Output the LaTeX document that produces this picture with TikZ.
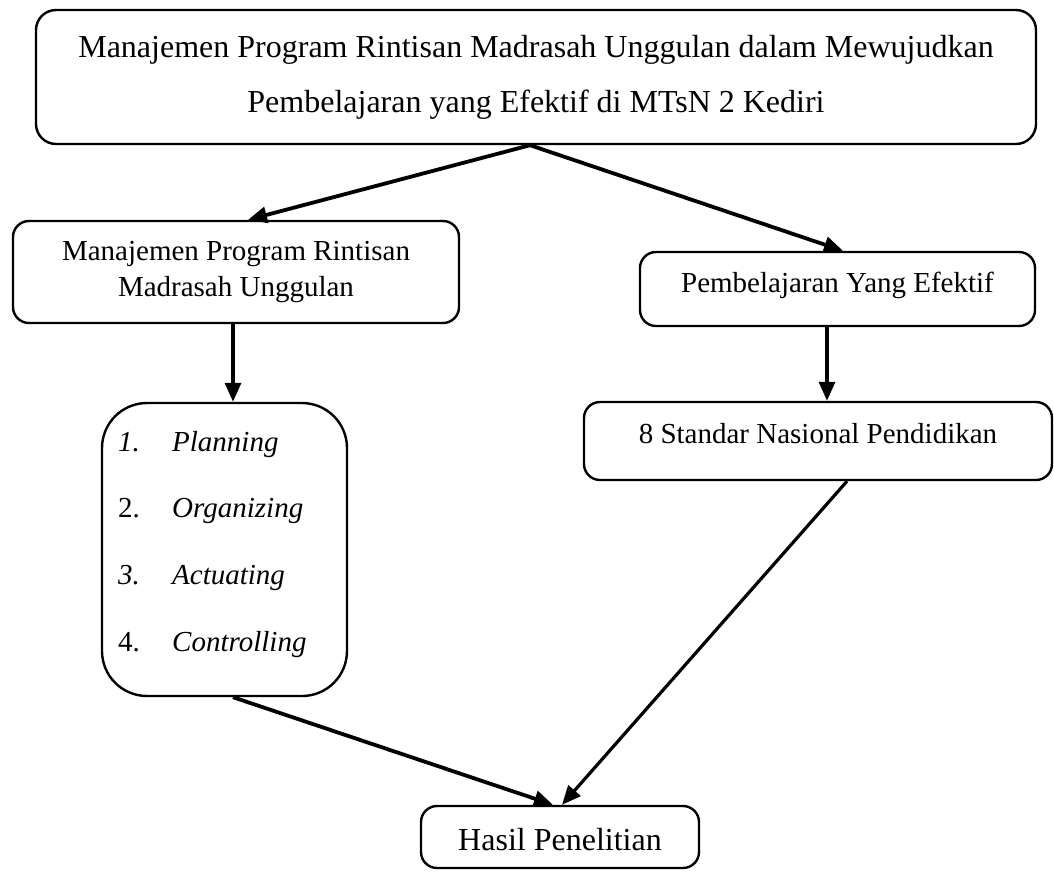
\documentclass[tikz,border=0pt]{standalone}
\usepackage{fontspec}
\setmainfont{Liberation Serif}
\usetikzlibrary{arrows.meta}
\begin{document}
\begin{tikzpicture}[x=1pt,y=-1pt,
  box/.style={draw, line width=2.4pt, rounded corners=16pt, inner sep=0pt, align=center, font=\fontsize{29}{35}\selectfont},
  item/.style={inner sep=0pt, anchor=base west, font=\fontsize{29}{35}\selectfont},
  arr/.style={line width=3.8pt, -{Triangle[length=19pt,width=16pt]}}]
\useasboundingbox (0,0) rectangle (1054,871);

\node[box, rounded corners=20pt, minimum width=1000pt, minimum height=134pt, font=\fontsize{32}{55}\selectfont] (top) at (536,77)
  {Manajemen Program Rintisan Madrasah Unggulan dalam Mewujudkan\\Pembelajaran yang Efektif di MTsN 2 Kediri};

\node[box, minimum width=446pt, minimum height=102pt, font=\fontsize{29}{36}\selectfont] (mprm) at (236,272)
  {Manajemen Program Rintisan\\Madrasah Unggulan};

\node[box, minimum width=395pt, text height=40pt, text depth=34pt] (pye) at (837.5,289) {Pembelajaran Yang Efektif};

\node[box, minimum width=468pt, text height=41pt, text depth=37pt] (snp) at (818,441) {8 Standar Nasional Pendidikan};

\node[box, rounded corners=45pt, minimum width=245pt, minimum height=293pt] (plan) at (224.5,549.5) {};
\node[item] (i1) at (118,451) {\makebox[54pt][l]{\textit{1.}}\textit{Planning}};
\node[item] (i2) at (118,517) {\makebox[54pt][l]{2.}\textit{Organizing}};
\node[item] (i3) at (118,584) {\makebox[54pt][l]{\textit{3.}}\textit{Actuating}};
\node[item] (i4) at (118,651) {\makebox[54pt][l]{4.}\textit{Controlling}};

\node[box, minimum width=278pt, text height=44pt, text depth=18pt, font=\fontsize{32}{38}\selectfont] (hasil) at (560,837) {Hasil Penelitian};

\draw[arr] ([xshift=-6pt]top.south) -- ([xshift=12pt]mprm.north);
\draw[arr] ([xshift=-6pt]top.south) -- ([xshift=5.5pt]pye.north);
\draw[arr, line width=3.2pt] ([xshift=-3pt]mprm.south) -- ([xshift=-3pt]mprm.south |- plan.north);
\draw[arr, line width=3.2pt] ([xshift=-10.5pt]pye.south) -- ([xshift=-10.5pt]pye.south |- snp.north);
\draw[arr] ([xshift=8.5pt]plan.south) -- ([xshift=-7pt]hasil.north);
\draw[arr, line width=3.2pt] ([xshift=29pt]snp.south) -- ([xshift=2pt]hasil.north);
\end{tikzpicture}
\end{document}
